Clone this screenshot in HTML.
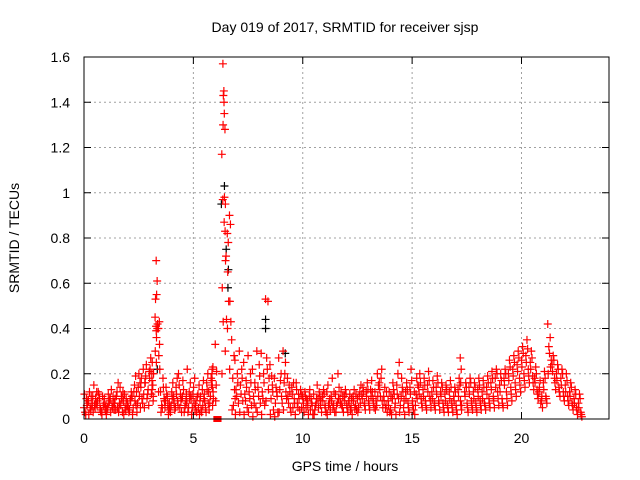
<!DOCTYPE html>
<html><head><meta charset="utf-8"><style>
html,body{margin:0;padding:0;background:#fff;}
svg{display:block;font-family:"Liberation Sans",sans-serif;}
</style></head><body>
<svg id="chart" width="640" height="480" viewBox="0 0 640 480">
<text x="345" y="32" font-size="14" text-anchor="middle" fill="#000">Day 019 of 2017, SRMTID for receiver sjsp</text>
<text transform="translate(19,238) rotate(-90)" font-size="14" text-anchor="middle" fill="#000">SRMTID / TECUs</text>
<text x="345" y="471" font-size="14" text-anchor="middle" fill="#000">GPS time / hours</text>
<g id="grid"></g>
<g id="marks"></g>
<g id="axes"></g>
</svg>
<script>
const xTicks = [0, 5, 10, 15, 20];
const yTicks = [0, 0.2, 0.4, 0.6, 0.8, 1, 1.2, 1.4, 1.6];
const yTickLabels = ["0", "0.2", "0.4", "0.6", "0.8", "1", "1.2", "1.4", "1.6"];
// rows: [hour, value, value, ...] red series
const redRows = [
[0.0,0.05,0.09,0.03,0.07,0.11,0.06,0.02,0.08],[0.2,0.08,0.04,0.12,0.06,0.02,0.10,0.05,0.07],[0.4,0.10,0.05,0.15,0.07,0.03,0.09,0.06,0.12],[0.6,0.06,0.09,0.12,0.04,0.08,0.05,0.11,0.03],
[0.8,0.03,0.07,0.10,0.05,0.02,0.09,0.06,0.04],[1.0,0.06,0.11,0.04,0.08,0.02,0.07,0.05,0.09],[1.2,0.09,0.05,0.13,0.07,0.03,0.10,0.06,0.04],[1.4,0.07,0.12,0.04,0.16,0.09,0.05,0.10,0.03],
[1.6,0.05,0.10,0.14,0.03,0.07,0.09,0.06,0.12],[1.8,0.08,0.04,0.11,0.06,0.02,0.09,0.05,0.07],[2.0,0.06,0.09,0.03,0.12,0.05,0.08,0.04,0.10],[2.2,0.10,0.15,0.05,0.19,0.02,0.08,0.12,0.06],
[2.4,0.12,0.20,0.07,0.16,0.03,0.10,0.14,0.05],[2.6,0.14,0.22,0.09,0.05,0.18,0.11,0.07,0.16],[2.8,0.16,0.11,0.24,0.06,0.19,0.13,0.09,0.21],[3.0,0.18,0.13,0.27,0.08,0.22,0.15,0.11,0.20],
[3.1,0.20,0.15,0.25,0.10,0.17],[3.25,0.45,0.41,0.53,0.36,0.30,0.39],[3.3,0.70,0.61,0.55,0.42,0.25,0.40],[3.4,0.40,0.43,0.28,0.22,0.12,0.33],
[3.5,0.12,0.18,0.06,0.09,0.03,0.14,0.05,0.08],[3.7,0.05,0.10,0.14,0.02,0.08,0.06,0.11,0.04],[3.9,0.07,0.12,0.03,0.16,0.05,0.09,0.06,0.10],[4.1,0.09,0.14,0.04,0.18,0.07,0.11,0.05,0.08],
[4.3,0.06,0.11,0.15,0.03,0.20,0.08,0.05,0.09],[4.5,0.10,0.05,0.13,0.08,0.17,0.06,0.03,0.11],[4.7,0.07,0.12,0.03,0.16,0.22,0.09,0.05,0.10],[4.9,0.09,0.14,0.05,0.18,0.02,0.07,0.11,0.04],
[5.1,0.06,0.11,0.03,0.15,0.08,0.05,0.10,0.02],[5.3,0.08,0.13,0.04,0.17,0.10,0.06,0.03,0.09],[5.5,0.11,0.16,0.05,0.20,0.08,0.13,0.03,0.07],[5.7,0.12,0.18,0.07,0.22,0.04,0.15,0.10,0.06],
[5.85,0.20,0.23,0.14,0.09,0.17,0.12],[6.0,0.33,0.15,0.08,0.21],[6.3,1.17,0.97,0.58,0.43,0.20],[6.35,1.57,1.45,1.43,1.35,1.30],
[6.4,1.40,1.28,0.98,0.95,0.87],[6.45,0.83,0.72,0.70,0.44,0.30],[6.55,0.82,0.78,0.65,0.52,0.40],[6.65,0.90,0.86,0.52,0.43,0.22],
[6.75,0.35,0.28,0.18,0.09,0.04,0.13,0.06],[6.9,0.26,0.20,0.13,0.07,0.02,0.16,0.10],[7.1,0.30,0.22,0.15,0.08,0.03,0.18,0.11],[7.3,0.25,0.17,0.11,0.05,0.02,0.14,0.08],
[7.5,0.28,0.20,0.12,0.06,0.03,0.16,0.09],[7.7,0.22,0.16,0.10,0.05,0.01,0.13,0.07],[7.9,0.30,0.24,0.14,0.07,0.03,0.19,0.10],[8.1,0.29,0.20,0.12,0.06,0.02,0.16,0.09],
[8.3,0.53,0.52,0.27,0.18,0.08,0.13,0.22],[8.5,0.24,0.15,0.09,0.04,0.02,0.12,0.19],[8.7,0.18,0.12,0.07,0.03,0.01,0.10,0.14],[8.9,0.27,0.20,0.13,0.07,0.03,0.10,0.17],
[9.1,0.30,0.25,0.16,0.09,0.04,0.12,0.20],[9.3,0.18,0.12,0.07,0.03,0.10,0.05,0.15],[9.5,0.14,0.09,0.05,0.02,0.11,0.07,0.16],[9.7,0.16,0.11,0.07,0.04,0.13,0.09,0.05],
[9.9,0.13,0.09,0.05,0.03,0.11,0.07,0.10],[10.1,0.12,0.08,0.05,0.02,0.10,0.06,0.09],[10.3,0.10,0.07,0.04,0.02,0.13,0.06,0.09],[10.5,0.11,0.07,0.04,0.15,0.02,0.09,0.06],
[10.7,0.09,0.06,0.12,0.03,0.05,0.08,0.10],[10.9,0.10,0.06,0.13,0.03,0.08,0.05,0.11],[11.1,0.12,0.07,0.15,0.04,0.02,0.09,0.06],[11.3,0.10,0.06,0.18,0.03,0.08,0.12,0.05],
[11.5,0.11,0.20,0.06,0.14,0.03,0.09,0.07],[11.7,0.09,0.05,0.12,0.03,0.07,0.10,0.06],[11.9,0.10,0.06,0.13,0.03,0.08,0.05,0.11],[12.1,0.08,0.05,0.11,0.02,0.07,0.09,0.04],
[12.3,0.10,0.06,0.13,0.04,0.08,0.11,0.05],[12.5,0.09,0.12,0.05,0.15,0.03,0.07,0.10],[12.7,0.11,0.07,0.14,0.04,0.09,0.06,0.12],[12.9,0.12,0.08,0.16,0.04,0.10,0.06,0.13],
[13.1,0.13,0.09,0.17,0.05,0.10,0.07,0.12],[13.3,0.12,0.20,0.08,0.15,0.04,0.10,0.06],[13.5,0.16,0.22,0.10,0.05,0.13,0.08,0.18],[13.7,0.10,0.06,0.14,0.03,0.08,0.12,0.05],
[13.9,0.08,0.04,0.12,0.02,0.06,0.10,0.03],[14.1,0.09,0.05,0.13,0.02,0.16,0.07,0.11],[14.3,0.15,0.25,0.20,0.06,0.11,0.03,0.09],[14.5,0.10,0.05,0.14,0.02,0.18,0.08,0.12],
[14.7,0.12,0.07,0.16,0.03,0.09,0.05,0.13],[14.9,0.14,0.08,0.22,0.04,0.11,0.06,0.17],[15.1,0.12,0.18,0.06,0.15,0.02,0.09,0.11],[15.3,0.14,0.09,0.20,0.05,0.11,0.07,0.16],
[15.5,0.13,0.08,0.18,0.04,0.10,0.06,0.15],[15.7,0.15,0.10,0.21,0.05,0.12,0.08,0.17],[15.9,0.12,0.07,0.17,0.04,0.09,0.06,0.14],[16.1,0.14,0.08,0.19,0.04,0.11,0.07,0.16],
[16.3,0.12,0.07,0.16,0.03,0.10,0.05,0.14],[16.5,0.11,0.06,0.15,0.03,0.08,0.05,0.13],[16.7,0.12,0.07,0.17,0.03,0.09,0.05,0.14],[16.9,0.10,0.06,0.14,0.02,0.08,0.04,0.12],
[17.1,0.13,0.08,0.18,0.04,0.10,0.06,0.15],[17.2,0.27,0.22,0.16,0.06],[17.4,0.12,0.07,0.16,0.03,0.10,0.05,0.14],[17.6,0.14,0.08,0.18,0.04,0.11,0.06,0.16],
[17.8,0.12,0.07,0.16,0.03,0.09,0.05,0.14],[18.0,0.13,0.08,0.18,0.04,0.10,0.06,0.15],[18.2,0.12,0.07,0.17,0.04,0.09,0.06,0.14],[18.4,0.14,0.09,0.19,0.05,0.11,0.07,0.16],
[18.6,0.16,0.10,0.21,0.05,0.13,0.08,0.18],[18.8,0.18,0.12,0.22,0.06,0.14,0.09,0.20],[19.0,0.15,0.09,0.20,0.05,0.12,0.07,0.17],[19.2,0.18,0.12,0.22,0.06,0.15,0.09,0.20],
[19.4,0.20,0.14,0.26,0.08,0.17,0.11,0.23],[19.6,0.22,0.16,0.28,0.10,0.19,0.13,0.25],[19.8,0.24,0.18,0.30,0.12,0.21,0.15,0.27],[20.0,0.26,0.20,0.32,0.14,0.23,0.17,0.29],
[20.2,0.28,0.22,0.35,0.16,0.25,0.19,0.31],[20.4,0.25,0.19,0.30,0.13,0.22,0.16,0.27],[20.6,0.18,0.13,0.23,0.09,0.16,0.11,0.20],[20.8,0.12,0.08,0.17,0.05,0.14,0.10,0.07],
[21.0,0.16,0.10,0.21,0.07,0.13,0.09,0.18],[21.2,0.42,0.36,0.32,0.26,0.20,0.23,0.29],[21.4,0.24,0.18,0.28,0.13,0.21,0.16,0.26],[21.6,0.20,0.14,0.24,0.10,0.17,0.12,0.22],
[21.8,0.18,0.12,0.22,0.08,0.15,0.10,0.20],[22.0,0.15,0.10,0.20,0.06,0.12,0.08,0.17],[22.2,0.12,0.07,0.16,0.04,0.10,0.06,0.14],[22.4,0.09,0.05,0.13,0.02,0.07,0.04,0.11],
[22.6,0.07,0.03,0.11,0.01,0.05,0.02,0.09]
];
// black series points
const blackHours = [6.28, 6.42, 6.5, 6.58, 8.3, 8.3, 9.2, 6.6, 3.35];
const blackValues = [0.95, 1.03, 0.75, 0.58, 0.44, 0.40, 0.29, 0.66, 0.22];
// filled squares (zero readings)
const zeroHours = [6.05, 6.15];
const zeroValues = [0.0, 0.0];

const L = 84, R = 609, T = 57, B = 419, XMAX = 24, YMAX = 1.6;
const xs = h => L + h / XMAX * (R - L);
const ys = v => B - v / YMAX * (B - T);
const jitter = [0, 0.11, 0.05, 0.16, 0.02, 0.13, 0.08, 0.18];
const NS = "http://www.w3.org/2000/svg";
function mk(tag, attrs, parent) { const e = document.createElementNS(NS, tag); for (const k in attrs) e.setAttribute(k, attrs[k]); parent.appendChild(e); return e; }
const grid = document.getElementById('grid'), marks = document.getElementById('marks'), axes = document.getElementById('axes');

yTicks.forEach((v, i) => {
  const y = ys(v);
  if (i > 0 && i < yTicks.length - 1) {
    const g = mk('line', {x1: L, x2: R, y1: y, y2: y, stroke: '#a0a0a0', 'stroke-dasharray': '2,3', 'stroke-width': 1}, grid);
    
    
  }
  const t1 = mk('line', {x1: L, x2: L + 7, y1: y, y2: y, stroke: '#000'}, axes);
  
  
  const t2 = mk('line', {x1: R - 7, x2: R, y1: y, y2: y, stroke: '#000'}, axes);
  
  
  const lb = mk('text', {x: L - 14, y: y + 5, 'font-size': 14, 'text-anchor': 'end', fill: '#000'}, axes);
  lb.textContent = yTickLabels[i];
  
  
});
xTicks.forEach(h => {
  const x = xs(h);
  if (h > 0) {
    const g = mk('line', {x1: x, x2: x, y1: T, y2: B, stroke: '#a0a0a0', 'stroke-dasharray': '2,3', 'stroke-width': 1}, grid);
    
    
  }
  const t1 = mk('line', {x1: x, x2: x, y1: B, y2: B - 7, stroke: '#000'}, axes);
  
  
  const t2 = mk('line', {x1: x, x2: x, y1: T, y2: T + 7, stroke: '#000'}, axes);
  
  
  const lb = mk('text', {x: x, y: B + 24, 'font-size': 14, 'text-anchor': 'middle', fill: '#000'}, axes);
  lb.textContent = String(h);
  
  
});
const frame = mk('rect', {x: L, y: T, width: R - L, height: B - T, fill: 'none', stroke: '#000', 'stroke-width': 1}, axes);



function cross(h, v, color, name) {
  const x = xs(h), y = ys(v);
  const p = mk('path', {d: `M${x-4},${y}H${x+4}M${x},${y-4}V${y+4}`, stroke: color, 'stroke-width': 1.2, fill: 'none'}, marks);
  
  
}
blackHours.forEach((h, i) => cross(h, blackValues[i], '#000', 'black-point'));
redRows.forEach(row => {
  const h = row[0];
  const narrow = row.length <= 7;
  for (let j = 1; j < row.length; j++) {
    cross(h + jitter[j - 1] * (narrow ? 0.4 : 1), row[j], '#ff0000', 'red-point');
  }
});
zeroHours.forEach((h, i) => {
  const r = mk('rect', {x: xs(h) - 3, y: ys(zeroValues[i]) - 3, width: 6, height: 6, fill: '#ff0000'}, marks);
  
  
});
</script>
</body></html>
